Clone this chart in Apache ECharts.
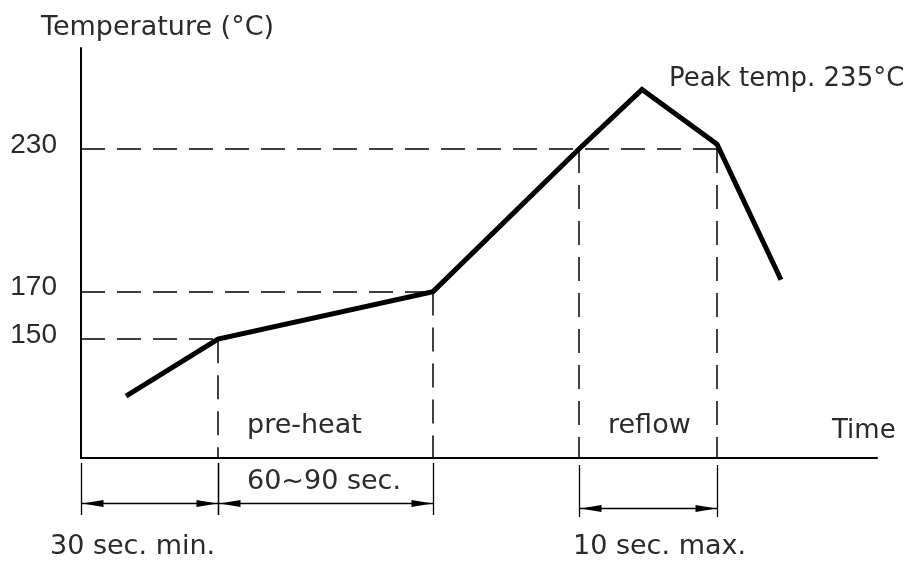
<!DOCTYPE html>
<html><head><meta charset="utf-8">
<script src="https://cdn.jsdelivr.net/npm/echarts@6/dist/echarts.min.js"></script>
<style>html,body{margin:0;padding:0;background:#fff}#c{width:919px;height:565px}</style>
</head><body><div id="c"></div>
<script>
// Schematic reflow profile. Time in drawing units (no scale given), temperature in °C as drawn.
const times = [11.25, 34.25, 88, 124.5, 140.25, 159, 175];
const temps = [126, 150, 170, 230, 255, 232, 175];
const yTickLabels = [150, 170, 230];
const yMin = 100, yMax = 272.5;
const xMin = 0, xMax = 199;
// guide lines: [curve vertex index, level]
const hGuides = [[1, 150], [2, 170], [5, 230]];
const vGuides = [[1, 150], [2, 170], [3, 230], [5, 230]];
// dimension spans (start time, end time) and labels
const spanStarts = [xMin, times[1], times[3]];
const spanEnds = [times[1], times[2], times[5]];
const spanLabels = ['30 sec. min.', '60~90 sec.', '10 sec. max.'];
const phaseLabels = ['pre-heat', 'reflow'];

const FONT = 'DejaVu Sans';
const TXT = '#2a2a2a';
const chart = echarts.init(document.getElementById('c'), null, {renderer: 'canvas'});
const dash = {color: '#000', width: 1.5, type: [24, 12]};

const markData = [];
hGuides.forEach(([i, v]) => markData.push([{coord: [xMin, v]}, {coord: [times[i], v]}]));
vGuides.forEach(([i, v]) => markData.push([{coord: [times[i], v]}, {coord: [times[i], yMin]}]));

chart.setOption({
  animation: false,
  backgroundColor: '#fff',
  grid: {left: 81, right: 42, top: 48, bottom: 107},
  xAxis: {
    type: 'value', min: xMin, max: xMax,
    axisLine: {show: true, onZero: false, lineStyle: {color: '#000', width: 2}},
    axisTick: {show: false}, axisLabel: {show: false}, splitLine: {show: false}
  },
  yAxis: {
    type: 'value', min: yMin, max: yMax,
    axisLine: {show: true, lineStyle: {color: '#000', width: 2}},
    axisTick: {show: false}, splitLine: {show: false},
    axisLabel: {
      customValues: yTickLabels, margin: 24,
      formatter: '{a|{value}}',
      rich: {a: {color: TXT, fontFamily: 'Liberation Sans', fontSize: 28, padding: [0, 0, 8, 0]}}
    }
  },
  series: [{
    type: 'line',
    data: times.map((t, i) => [t, temps[i]]),
    symbol: 'none',
    lineStyle: {color: '#000', width: 5, join: 'miter', cap: 'butt'},
    markLine: {
      silent: true, symbol: 'none', label: {show: false},
      lineStyle: dash, data: markData, animation: false
    }
  }]
});

function px(t, v) { return chart.convertToPixel({gridIndex: 0}, [t, v]); }
const g = [];
// dimension lines
const dimY = [503, 503, 508];
const extTop = [463, 463, 465], extBot = [515, 515, 517];
spanStarts.forEach((s, k) => {
  const x0 = Math.round(px(s, yMin)[0]) + 0.5, x1 = Math.round(px(spanEnds[k], yMin)[0]) + 0.5, y = dimY[k] + 0.5;
  [x0, x1].forEach(x => g.push({type: 'line', shape: {x1: x, y1: extTop[k], x2: x, y2: extBot[k]}, style: {stroke: '#000', lineWidth: 1.3}}));
  g.push({type: 'line', shape: {x1: x0, y1: y, x2: x1, y2: y}, style: {stroke: '#000', lineWidth: 1.3}});
  g.push({type: 'polygon', shape: {points: [[x0 + 1, y], [x0 + 22, y - 3.5], [x0 + 22, y + 3.5]]}, style: {fill: '#000'}});
  g.push({type: 'polygon', shape: {points: [[x1 - 1, y], [x1 - 22, y - 3.5], [x1 - 22, y + 3.5]]}, style: {fill: '#000'}});
});
const T = (text, left, top, size) => g.push({type: 'text', left, top, style: {text, fill: TXT, font: `${size}px "${FONT}"`}});
T('Temperature (°C)', 41, 14, 27);
T('Peak temp. 235°C', 669, 66, 26);
T(phaseLabels[0], 247, 412, 27);
T(phaseLabels[1], 608, 412, 27);
T('Time', 832, 418, 26);
T(spanLabels[1], 247, 468, 27);
T(spanLabels[0], 50, 533, 27);
T(spanLabels[2], 573, 533, 27);
chart.setOption({graphic: g});
</script></body></html>
